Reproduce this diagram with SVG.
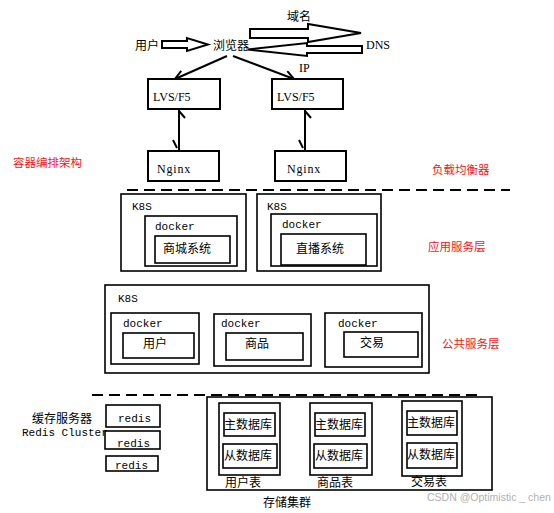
<svg xmlns="http://www.w3.org/2000/svg" width="554" height="513" viewBox="0 0 554 513">
<style>
.b{fill:#fff;stroke:#000;stroke-width:2}
.o{fill:none;stroke:#000;stroke-width:1.6}
.ln{fill:none;stroke:#000;stroke-width:2}
.cn{font-family:"Liberation Serif","Noto Sans CJK SC",serif;font-size:12px;fill:#000}
.mo{font-family:"Liberation Mono","DejaVu Sans Mono",monospace;font-size:11px;fill:#000}
.sf{font-family:"Liberation Serif",serif;font-size:12px;fill:#000}
.red{font-family:"Liberation Serif","Noto Sans CJK SC",serif;font-size:11.5px;fill:#f01818}
.wm{font-family:"Liberation Sans",Arial,sans-serif;font-size:10.5px;fill:#b0b0b0}
</style>
<defs>
<marker id="ah" markerWidth="12" markerHeight="12" refX="10" refY="6" orient="auto" markerUnits="userSpaceOnUse">
<path d="M1,1 L10,6 L1,11" fill="none" stroke="#000" stroke-width="2"/>
</marker>
</defs>
<rect width="554" height="513" fill="#fff"/>

<g id="connectors">
<polygon class="b" points="162,41 187,41 187,38 208,44.5 187,51 187,48 162,48"/>
<polygon class="b" points="250,29 308,29 308,24 361,33 308,42 308,38 250,38"/>
<polygon class="b" points="362,46 307,46 307,43 248,49.5 307,56 307,53 362,53"/>
<line class="ln" x1="227" y1="56" x2="175" y2="79" marker-end="url(#ah)"/>
<line class="ln" x1="233" y1="56" x2="294" y2="79" marker-end="url(#ah)"/>
<line class="ln" x1="179" y1="109" x2="179" y2="151"/>
<line class="ln" x1="179" y1="111" x2="185" y2="118"/>
<line class="ln" x1="173" y1="140" x2="177" y2="148"/>
<line class="ln" x1="305" y1="109" x2="305" y2="151"/>
<line class="ln" x1="305" y1="111" x2="311" y2="118"/>
<line class="ln" x1="299" y1="140" x2="303" y2="148"/>
<line x1="127" y1="190" x2="510" y2="190" stroke="#000" stroke-width="2" stroke-dasharray="11,6"/>
<line x1="92" y1="395" x2="478" y2="395" stroke="#000" stroke-width="2" stroke-dasharray="11,6"/>
</g>

<g id="user"><text class="cn" x="135" y="50">用户</text></g>
<g id="browser"><text class="cn" x="213" y="50">浏览器</text></g>
<g id="domain"><text class="cn" x="287" y="21">域名</text></g>
<g id="dns"><text class="sf" x="366" y="49" font-size="11">DNS</text></g>
<g id="ip"><text class="sf" x="299" y="72" font-size="11">IP</text></g>

<g id="lvs1"><rect class="b" x="148" y="79" width="72" height="30"/><text class="sf" x="153" y="101">LVS/F5</text></g>
<g id="lvs2"><rect class="b" x="272" y="79" width="71" height="30"/><text class="sf" x="277" y="101">LVS/F5</text></g>
<g id="nginx1"><rect class="b" x="148" y="151" width="71" height="30"/><text class="sf" x="157" y="173" letter-spacing="0.8">Nginx</text></g>
<g id="nginx2"><rect class="b" x="275" y="151" width="71" height="30"/><text class="sf" x="287" y="173" letter-spacing="0.8">Nginx</text></g>

<g id="label-orch"><text class="red" x="13" y="167">容器编排架构</text></g>
<g id="label-lb"><text class="red" x="432" y="174">负载均衡器</text></g>
<g id="label-app"><text class="red" x="428" y="251">应用服务层</text></g>
<g id="label-common"><text class="red" x="442" y="348">公共服务层</text></g>

<g id="k8s-mall">
<rect class="o" x="121" y="194" width="125" height="77"/>
<text class="mo" x="132" y="210">K8S</text>
<rect class="o" x="145" y="216" width="92" height="50"/>
<text class="mo" x="155" y="230">docker</text>
<rect class="o" x="155" y="236" width="75" height="27"/>
<text class="cn" x="163" y="253">商城系统</text>
</g>
<g id="k8s-live">
<rect class="o" x="257" y="194" width="124" height="77"/>
<text class="mo" x="267" y="210">K8S</text>
<rect class="o" x="271" y="214" width="106" height="52"/>
<text class="mo" x="282" y="228">docker</text>
<rect class="o" x="281" y="234" width="85" height="31"/>
<text class="cn" x="296" y="253">直播系统</text>
</g>

<g id="k8s-common">
<rect class="o" x="105" y="285" width="324" height="88"/>
<text class="mo" x="118" y="302">K8S</text>
</g>
<g id="docker-user">
<rect class="o" x="111" y="313" width="88" height="51"/>
<text class="mo" x="123" y="327">docker</text>
<rect class="o" x="123" y="333" width="71" height="25"/>
<text class="cn" x="155" y="348" text-anchor="middle">用户</text>
</g>
<g id="docker-goods">
<rect class="o" x="214" y="314" width="97" height="52"/>
<text class="mo" x="221" y="327">docker</text>
<rect class="o" x="226" y="333" width="77" height="27"/>
<text class="cn" x="257" y="348" text-anchor="middle">商品</text>
</g>
<g id="docker-trade">
<rect class="o" x="325" y="313" width="97" height="54"/>
<text class="mo" x="338" y="327">docker</text>
<rect class="o" x="344" y="332" width="74" height="25"/>
<text class="cn" x="372" y="347" text-anchor="middle">交易</text>
</g>

<g id="cache-label">
<text class="cn" x="32" y="423" font-size="11.5">缓存服务器</text>
<text class="mo" x="22" y="436">Redis Cluster</text>
</g>
<g id="redis1"><rect class="o" x="106" y="405" width="54" height="22"/><text class="mo" x="118" y="422">redis</text></g>
<g id="redis2"><rect class="o" x="105" y="431" width="55" height="18"/><text class="mo" x="117" y="447">redis</text></g>
<g id="redis3"><rect class="o" x="106" y="456" width="52" height="15"/><text class="mo" x="115" y="469">redis</text></g>

<g id="storage">
<rect class="o" x="207" y="397" width="285" height="93"/>
<text class="cn" x="263" y="507" font-size="11.5">存储集群</text>
</g>
<g id="table-user">
<rect class="o" x="219" y="403" width="61" height="72"/>
<rect class="o" x="224" y="413" width="51" height="23"/>
<text class="cn" x="224" y="429">主数据库</text>
<rect class="o" x="223" y="444" width="54" height="24"/>
<text class="cn" x="224" y="460">从数据库</text>
<text class="cn" x="225" y="487" font-size="11.5">用户表</text>
</g>
<g id="table-goods">
<rect class="o" x="310" y="403" width="62" height="72"/>
<rect class="o" x="315" y="413" width="50" height="23"/>
<text class="cn" x="315" y="429">主数据库</text>
<rect class="o" x="314" y="444" width="53" height="24"/>
<text class="cn" x="315" y="460">从数据库</text>
<text class="cn" x="317" y="487" font-size="11.5">商品表</text>
</g>
<g id="table-trade">
<rect class="o" x="402" y="401" width="60" height="75"/>
<rect class="o" x="407" y="411" width="50" height="24"/>
<text class="cn" x="407" y="427">主数据库</text>
<rect class="o" x="407" y="443" width="50" height="25"/>
<text class="cn" x="407" y="459">从数据库</text>
<text class="cn" x="411" y="486" font-size="11.5">交易表</text>
</g>

<g id="watermark"><text class="wm" x="427" y="501">CSDN @Optimistic _ chen</text></g>
</svg>
